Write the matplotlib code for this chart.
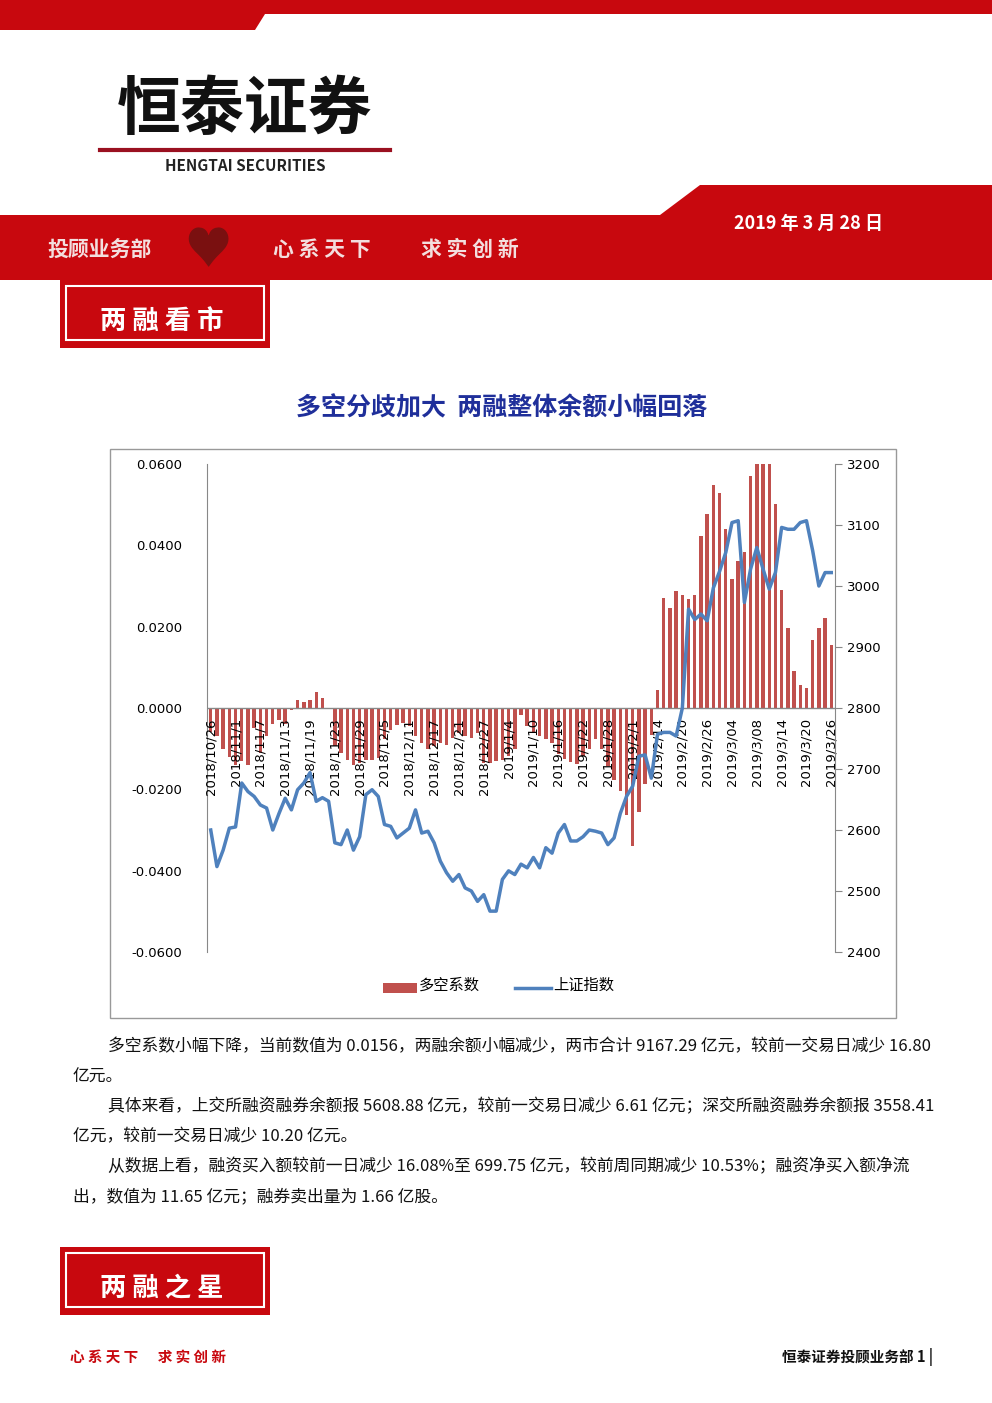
import numpy as np
import pandas as pd
import matplotlib
matplotlib.use('Agg')
import matplotlib.pyplot as plt
from matplotlib.patches import Polygon, Rectangle

plt.rcParams['font.family'] = ['Noto Sans CJK SC', 'DejaVu Sans']

# 交易日（2018/10/26 - 2019/3/26）
holidays = pd.to_datetime(['2018-12-31', '2019-01-01', '2019-02-04', '2019-02-05',
                           '2019-02-06', '2019-02-07', '2019-02-08'])
days = [d for d in pd.bdate_range('2018-10-26', '2019-03-26') if d not in holidays]
dates = [f"{d.year}/{d.month}/{d.day}" if d.year == 2018 or d.month < 3 else f"{d.year}/{d.month}/{d.day:02d}"
         for d in days]

# 多空系数（单位 0.001）
ratio_k = [-6, -7, -10, -12, -14, -13, -14, -5, -11, -7, -4, -3, -4, -0.5, 2, 1.5, 2, 4, 2.5, 0,
           -9.4, -11, -12.7, -14, -13.5, -12.7, -12.7, -12.3, -7.7, -5.3, -4.1, -3.7, -4.5, -6.9,
           -8.5, -10.2, -9.4, -8.5, -9, -7.3, -6.1, -6.9, -7.3, -6.1, -13.5, -13.5, -13.1, -12.7,
           -11.9, -10.2, -1.6,
           -4.5, -6.1, -6.9, -7.7, -8.5, -11.3, -12.5, -13.3, -13.7, -11.7, -10.2, -7.7, -10.2,
           -14.3, -17.6, -20.5, -26.2, -34, -25.5, -18.6, -6.6, 4.4, 27.1, 24.6, 28.7, 27.7, 26.7,
           27.9, 42.4, 47.8, 54.9, 52.8, 44, 31.7, 36.2, 38.4, 57.1, 60, 60, 60, 50.1, 29.1, 19.7,
           9.2, 5.7, 4.9, 16.7, 19.6, 22.1, 15.6]
ratio = [v / 1000 for v in ratio_k]

# 上证指数
index = [2600, 2540, 2567, 2603, 2605, 2677, 2663, 2655, 2641, 2636, 2600, 2627, 2652, 2633,
         2666, 2677, 2694, 2647, 2653, 2647, 2579, 2576, 2600, 2567, 2589, 2658, 2666, 2655,
         2609, 2606, 2587, 2595, 2603, 2633, 2595, 2598, 2579, 2549, 2530, 2516, 2527, 2505,
         2500, 2483, 2494, 2467, 2467, 2519, 2533, 2527,
         2544, 2538, 2555, 2538, 2571, 2562, 2595, 2609, 2582, 2582, 2589, 2600, 2598, 2595,
         2576, 2587, 2627, 2655, 2672, 2721, 2723, 2685, 2757, 2760, 2760, 2754, 2800, 2962,
         2945, 2954, 2943, 2997, 3024, 3055, 3104, 3107, 2973, 3028, 3063, 3028, 2995, 3022,
         3096, 3093, 3093, 3104, 3107, 3058, 3000, 3022, 3022]

W, H = 992, 1403
fig = plt.figure(figsize=(W / 100, H / 100), dpi=100)
page = fig.add_axes([0, 0, 1, 1])
page.set_xlim(0, W)
page.set_ylim(H, 0)
page.axis('off')

red = '#c8080e'
# 顶部红条
page.add_patch(Polygon([[0, 0], [992, 0], [992, 14], [265, 14], [255, 30], [0, 30]], color=red, lw=0))
# 中部红带
page.add_patch(Polygon([[0, 215], [660, 215], [700, 185], [992, 185], [992, 280], [0, 280]], color=red, lw=0))
page.text(245, 110, '恒泰证券', fontsize=46, fontweight='bold', ha='center', va='center', color='#111')
page.plot([100, 390], [150, 150], color='#9a1020', lw=3)
page.text(245, 166, 'HENGTAI SECURITIES', fontsize=11, fontweight='bold', ha='center', va='center', color='#222')
page.text(808, 223, '2019 年 3 月 28 日', fontsize=13, fontweight='bold', ha='center', va='center', color='white')
page.text(100, 249, '投顾业务部', fontsize=15, fontweight='bold', ha='center', va='center', color='#f3dede')
page.text(208, 252, '♥', fontsize=34, ha='center', va='center', color='#7a1010')
page.text(322, 249, '心 系 天 下', fontsize=15, fontweight='bold', ha='center', va='center', color='#f3dede')
page.text(470, 249, '求 实 创 新', fontsize=15, fontweight='bold', ha='center', va='center', color='#f3dede')


def section_box(y0, label):
    page.add_patch(Rectangle((60, y0), 210, 68, color=red, lw=0))
    page.add_patch(Rectangle((66, y0 + 6), 198, 54, fill=False, ec='white', lw=1.5))
    page.text(162, y0 + 41, label, fontsize=19, fontweight='bold', ha='center', va='center', color='white')


section_box(280, '两 融 看 市')
section_box(1247, '两 融 之 星')

page.text(502, 408, '多空分歧加大  两融整体余额小幅回落', fontsize=18, fontweight='bold',
          ha='center', va='center', color='#1f2f9a')

# 图框
page.add_patch(Rectangle((110, 449), 786, 569, fill=False, ec='#999', lw=1))

ax = fig.add_axes([207 / W, 1 - 952 / H, 628 / W, 488 / H])
x = np.arange(len(dates))
ax.bar(x, ratio, width=0.55, color='#c0504d')
ax.set_ylim(-0.06, 0.06)
ax.set_xlim(-0.6, len(dates) - 0.4)
ax.set_yticks(np.arange(-0.06, 0.061, 0.02))
ax.set_yticklabels([f'{v:.4f}' for v in np.arange(-0.06, 0.061, 0.02)], fontsize=9.5, family='DejaVu Sans')
ax.tick_params(axis='y', length=0, pad=18)
ax.set_xticks([])
ax.axhline(0, color='#888', lw=1)
for s in ['top', 'right', 'bottom']:
    ax.spines[s].set_visible(False)
ax.spines['left'].set_color('#888')
for i in range(0, len(dates), 4):
    ax.text(i, -0.0025, dates[i], rotation=90, ha='center', va='top', fontsize=9.5, family='DejaVu Sans')

ax2 = ax.twinx()
ax2.plot(x, index, color='#4f81bd', lw=2.5)
ax2.set_ylim(2400, 3200)
ax2.set_yticks(range(2400, 3201, 100))
ax2.tick_params(axis='y', labelsize=9.5, direction='out', length=5, color='#888')
for lab in ax2.get_yticklabels():
    lab.set_family('DejaVu Sans')
for s in ['top', 'left', 'bottom']:
    ax2.spines[s].set_visible(False)
ax2.spines['right'].set_color('#888')

# 图例
page.add_patch(Rectangle((383, 983), 34, 10, color='#c0504d', lw=0))
page.text(419, 985, '多空系数', fontsize=11, va='center')
page.plot([515, 551], [988, 988], color='#4f81bd', lw=2.5)
page.text(553, 985, '上证指数', fontsize=11, va='center')

# 正文
paras = [
    (108, 1047, '多空系数小幅下降，当前数值为 0.0156，两融余额小幅减少，两市合计 9167.29 亿元，较前一交易日减少 16.80'),
    (73, 1077, '亿元。'),
    (108, 1107, '具体来看，上交所融资融券余额报 5608.88 亿元，较前一交易日减少 6.61 亿元；深交所融资融券余额报 3558.41'),
    (73, 1137, '亿元，较前一交易日减少 10.20 亿元。'),
    (108, 1167, '从数据上看，融资买入额较前一日减少 16.08%至 699.75 亿元，较前周同期减少 10.53%；融资净买入额净流'),
    (73, 1197, '出，数值为 11.65 亿元；融券卖出量为 1.66 亿股。'),
]
for px, py, t in paras:
    page.text(px, py, t, fontsize=12.1, va='center', color='#111')

page.text(70, 1357, '心 系 天 下      求 实 创 新', fontsize=10.5, fontweight='bold', va='center', color=red)
page.text(933, 1357, '恒泰证券投顾业务部 1 |', fontsize=10.5, fontweight='bold', va='center', ha='right', color='#111')

fig.savefig('out.png', dpi=100)
